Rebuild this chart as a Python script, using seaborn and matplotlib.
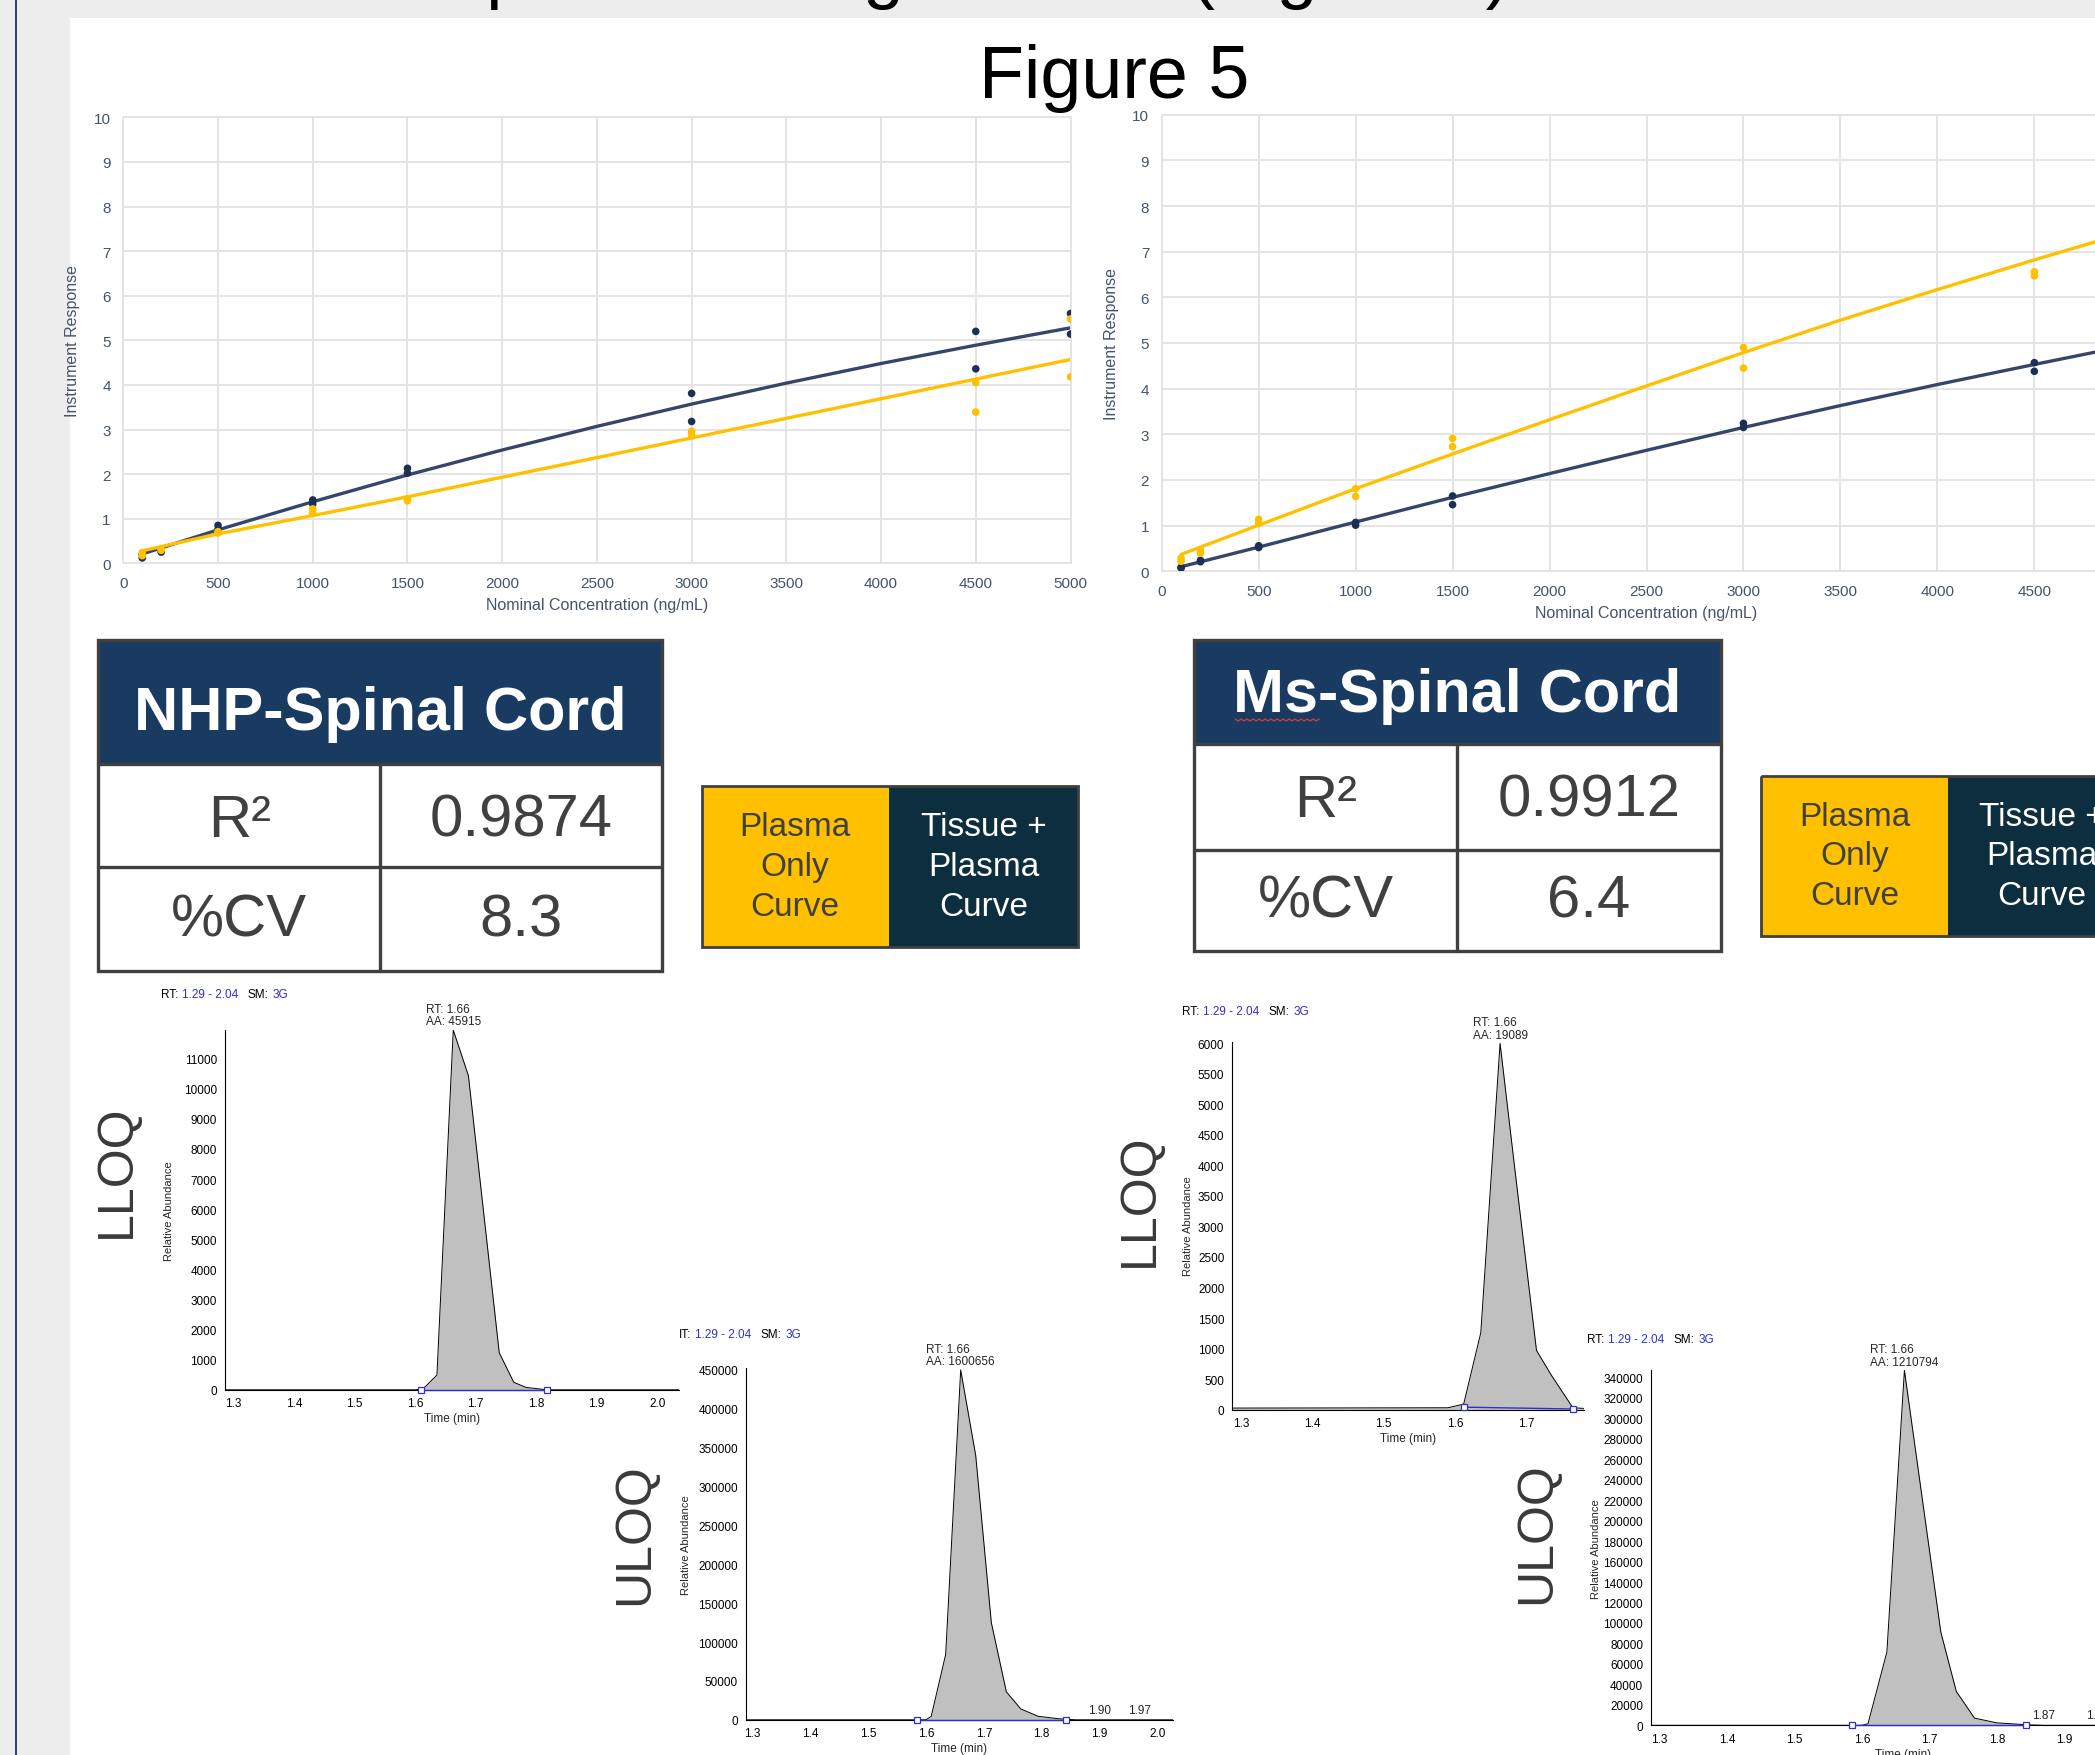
import numpy as np
import pandas as pd
import seaborn as sns
import matplotlib
matplotlib.use("Agg")
import matplotlib.pyplot as plt
from matplotlib.patches import Rectangle
from matplotlib.ticker import MultipleLocator, AutoMinorLocator, FormatStrFormatter

# ---------------- data ----------------
# calibration points (two replicates per level)
conc = [100, 100, 200, 200, 500, 500, 1000, 1000, 1500, 1500, 3000, 3000, 4500, 4500, 5000, 5000]
nhp_tissue = [0.12, 0.20, 0.25, 0.28, 0.76, 0.85, 1.33, 1.42, 2.02, 2.13, 3.18, 3.81, 4.36, 5.20, 5.14, 5.60]
nhp_plasma = [0.17, 0.24, 0.29, 0.31, 0.68, 0.71, 1.13, 1.22, 1.40, 1.45, 2.88, 2.96, 3.39, 4.05, 4.18, 5.48]
ms_conc = [100, 100, 200, 200, 500, 500, 1000, 1000, 1500, 1500, 3000, 3000, 4500, 4500]
ms_tissue = [0.07, 0.09, 0.21, 0.24, 0.52, 0.56, 1.01, 1.07, 1.46, 1.65, 3.15, 3.24, 4.38, 4.57]
ms_plasma = [0.22, 0.29, 0.40, 0.47, 1.05, 1.14, 1.64, 1.81, 2.73, 2.91, 4.45, 4.90, 6.47, 6.56]

# fitted curves, read at every 500 ng/mL
fit_conc = [100, 500, 1000, 1500, 2000, 2500, 3000, 3500, 4000, 4500, 5000]
nhp_tissue_fit = [0.21, 0.75, 1.38, 1.98, 2.54, 3.07, 3.57, 4.04, 4.48, 4.89, 5.28]
nhp_plasma_fit = [0.28, 0.66, 1.07, 1.49, 1.93, 2.37, 2.81, 3.25, 3.69, 4.13, 4.57]
ms_tissue_fit = [0.10, 0.53, 1.08, 1.62, 2.14, 2.65, 3.15, 3.63, 4.09, 4.53, 4.96]
ms_plasma_fit = [0.37, 1.01, 1.81, 2.57, 3.32, 4.06, 4.79, 5.50, 6.17, 6.82, 7.45]

# stats tables and legend
stat_labels = ["R\u00b2", "%CV"]
nhp_stats = ["0.9874", "8.3"]
ms_stats = ["0.9912", "6.4"]
legend_labels = ["Plasma\nOnly\nCurve", "Tissue +\nPlasma\nCurve"]

# chromatograms (time, abundance)
nhp_lloq_t = [1.285, 1.600, 1.613, 1.636, 1.663, 1.688, 1.739, 1.763, 1.783, 1.818, 2.036]
nhp_lloq_a = [0, 0, 30, 490, 11950, 10440, 1230, 250, 80, 0, 0]
nhp_uloq_t = [1.288, 1.600, 1.609, 1.634, 1.660, 1.686, 1.713, 1.739, 1.764, 1.794, 1.830, 1.860, 2.027]
nhp_uloq_a = [0, 0, 4500, 84000, 450000, 340000, 125000, 36000, 14000, 4500, 1300, 0, 0]
ms_lloq_t = [1.2875, 1.590, 1.612, 1.636, 1.663, 1.685, 1.714, 1.735, 1.765, 1.780]
ms_lloq_a = [25, 30, 90, 1260, 6000, 3810, 970, 560, 30, 20]
ms_uloq_t = [1.287, 1.600, 1.609, 1.637, 1.663, 1.717, 1.740, 1.767, 1.800, 1.845, 1.870, 2.036]
ms_uloq_a = [0, 0, 1500, 71600, 347000, 91000, 33000, 7000, 2400, 500, 0, 0]

# integration limits
nhp_lloq_int = ([1.609, 1.818], [0, 0])
nhp_uloq_int = ([1.584, 1.842], [0, 0])
ms_lloq_int = ([1.612, 1.765], [40, 10])
ms_uloq_int = ([1.585, 1.844], [0, 0])

# peak labels
nhp_lloq_peak = ("1.66", "45915")
nhp_uloq_peak = ("1.66", "1600656")
ms_lloq_peak = ("1.66", "19089")
ms_uloq_peak = ("1.66", "1210794")
nhp_uloq_extra = ([1.90, 1.97], ["1.90", "1.97"])
ms_uloq_extra = ([1.87, 1.95], ["1.87", "1.95"])

# ---------------- style ----------------
sns.set_style("white")
plt.rcParams["font.family"] = ["Liberation Sans", "DejaVu Sans"]

W, H, DPI = 2095, 1756, 100
NAVY_LINE = "#34476b"
NAVY_PT = "#1c2f55"
GOLD = "#ffc000"
TICK = "#44546a"
GRID = "#e4e4e4"
HEADER_BLUE = "#1a3b61"
LEGEND_DARK = "#0d2e3e"
BORDER = "#404040"
BLUE_TXT = "#2f2fd0"
PEAK_FILL = "#c0c0c0"

fig = plt.figure(figsize=(W / DPI, H / DPI), dpi=DPI)
fig.patch.set_facecolor("white")


def add_axes_px(x0, y0, x1, y1):
    return fig.add_axes([x0 / W, 1 - y1 / H, (x1 - x0) / W, (y1 - y0) / H], zorder=2)


# background canvas in pixel units (y down)
bg = fig.add_axes([0, 0, 1, 1], zorder=0)
bg.set_xlim(0, W)
bg.set_ylim(H, 0)
bg.axis("off")
bg.add_patch(Rectangle((0, 0), 70, H, fc="#ededed", ec="none"))
bg.add_patch(Rectangle((0, 0), W, 19, fc="#ededed", ec="none"))
bg.add_patch(Rectangle((14.5, 0), 2.5, H, fc="#2a4a6b", ec="none"))
bg.text(1510, -4.5, "Plasma Spike Loading Results (Figure 5)", fontsize=53,
        ha="right", va="baseline", color="black")
bg.text(1114, 98, "Figure 5", fontsize=53, ha="center", va="baseline", color="black")

renderer = fig.canvas.get_renderer()


# ---------------- calibration curves ----------------
def calib_panel(box, pts_x, tissue_pts, plasma_pts, tissue_fit, plasma_fit):
    ax = add_axes_px(*box)
    ax.set_facecolor("none")
    n = len(fit_conc)
    fit_df = pd.DataFrame({"conc": fit_conc * 2,
                           "resp": tissue_fit + plasma_fit,
                           "curve": ["tissue"] * n + ["plasma"] * n})
    pal = {"tissue": NAVY_LINE, "plasma": GOLD}
    sns.lineplot(data=fit_df, x="conc", y="resp", hue="curve", palette=pal,
                 lw=2.4, errorbar=None, legend=False, ax=ax)
    m = len(pts_x)
    pts_df = pd.DataFrame({"conc": pts_x * 2,
                           "resp": tissue_pts + plasma_pts,
                           "curve": ["tissue"] * m + ["plasma"] * m})
    sns.scatterplot(data=pts_df, x="conc", y="resp", hue="curve",
                    palette={"tissue": NAVY_PT, "plasma": GOLD}, s=30,
                    linewidth=0, legend=False, zorder=3, ax=ax)
    ax.set_xlim(0, 5000)
    ax.set_ylim(0, 10)
    ax.xaxis.set_major_locator(MultipleLocator(500))
    ax.yaxis.set_major_locator(MultipleLocator(1))
    ax.grid(True, color=GRID, lw=1.4)
    for s in ax.spines.values():
        s.set_color(GRID)
        s.set_linewidth(1.4)
    ax.tick_params(length=0, labelsize=11, labelcolor=TICK, pad=9)
    ax.set_xlabel("Nominal Concentration (ng/mL)", fontsize=11.5, color=TICK, labelpad=5)
    ax.set_ylabel("Instrument Response", fontsize=11.5, color=TICK)
    ax.yaxis.set_label_coords(-43 / (box[2] - box[0]), 0.5)
    return ax


calib_panel((123.3, 118.3, 1070.5, 564.3), conc, nhp_tissue, nhp_plasma,
            nhp_tissue_fit, nhp_plasma_fit)
calib_panel((1161.7, 115.7, 2131.3, 572.3), ms_conc, ms_tissue, ms_plasma,
            ms_tissue_fit, ms_plasma_fit)


# ---------------- stats tables and legends ----------------
def stats_table(x0, xs, x1, y0, yh, ys, y1, title, values, baselines, squiggle=False):
    bg.add_patch(Rectangle((x0, y0), x1 - x0, yh - y0, fc=HEADER_BLUE, ec="none"))
    bg.add_patch(Rectangle((x0, y0), x1 - x0, y1 - y0, fc="none", ec=BORDER, lw=2.4))
    bg.plot([x0, x1], [yh, yh], color=BORDER, lw=2.4)
    bg.plot([x0, x1], [ys, ys], color=BORDER, lw=2.4)
    bg.plot([xs, xs], [yh, y1], color=BORDER, lw=2.4)
    t = bg.text((x0 + x1) / 2, baselines[0], title, color="white", fontsize=44,
                fontweight="bold", ha="center", va="baseline")
    if squiggle:
        bb = t.get_window_extent(renderer)
        sx = np.arange(bb.x0 + 2, bb.x0 + 87, 3.0)
        sy = baselines[0] + 8 + 2 * (np.arange(len(sx)) % 2)
        bg.plot(sx, sy, color="#d04040", lw=0.9)
    for lab, val, base in zip(stat_labels, values, baselines[1:]):
        bg.text((x0 + xs) / 2, base, lab, color=BORDER, fontsize=43, ha="center", va="baseline")
        bg.text((xs + x1) / 2, base, val, color=BORDER, fontsize=43, ha="center", va="baseline")


def legend_box(x0, xs, x1, y0, y1):
    bg.add_patch(Rectangle((x0, y0), xs - x0, y1 - y0, fc=GOLD, ec="none"))
    bg.add_patch(Rectangle((xs, y0), x1 - xs, y1 - y0, fc=LEGEND_DARK, ec="none"))
    bg.add_patch(Rectangle((x0, y0), x1 - x0, y1 - y0, fc="none", ec=BORDER, lw=2.0))
    yc = (y0 + y1) / 2
    bg.text((x0 + xs) / 2, yc, legend_labels[0], color=BORDER, fontsize=24,
            ha="center", va="center", linespacing=1.37, multialignment="center")
    bg.text((xs + x1) / 2, yc, legend_labels[1], color="white", fontsize=24,
            ha="center", va="center", linespacing=1.37, multialignment="center")


stats_table(98.2, 380.2, 661.5, 640.7, 765, 868.3, 971.7, "NHP-Spinal Cord",
            nhp_stats, (730, 837, 937))
legend_box(701.5, 888.8, 1078.2, 786.7, 948.3)
stats_table(1193.9, 1457.2, 1720.6, 640.7, 745, 850.7, 952.3, "Ms-Spinal Cord",
            ms_stats, (712, 817, 918), squiggle=True)
legend_box(1761.2, 1948.4, 2135.6, 777.3, 936.7)


# ---------------- chromatograms ----------------
def header(x, y, first="RT:"):
    pieces = [(first, "black", 4), ("1.29 - 2.04", BLUE_TXT, 9), ("SM:", "black", 4), ("3G", BLUE_TXT, 0)]
    for txt, col, gap in pieces:
        t = bg.text(x, y, txt, color=col, fontsize=8.5, ha="left", va="center")
        x += t.get_window_extent(renderer).width + gap


def chromatogram(box, xlim, ylim, ystep, t, a, integ, peak, extra=None, ylab_dx=50):
    ax = add_axes_px(*box)
    ax.set_facecolor("none")
    ax.fill_between(t, a, color=PEAK_FILL, lw=0)
    sns.lineplot(x=t, y=a, color="black", lw=0.7, sort=False, errorbar=None, ax=ax)
    ax.plot(integ[0], integ[1], color=BLUE_TXT, lw=1.0, marker="s", ms=4,
            mfc="white", mec=BLUE_TXT, mew=0.9, clip_on=False, zorder=4)
    ax.set_xlim(*xlim)
    ax.set_ylim(*ylim)
    ax.xaxis.set_major_locator(MultipleLocator(0.1))
    ax.xaxis.set_minor_locator(AutoMinorLocator(5))
    ax.yaxis.set_major_locator(MultipleLocator(ystep))
    ax.yaxis.set_minor_locator(AutoMinorLocator(5))
    ax.xaxis.set_major_formatter(FormatStrFormatter("%.1f"))
    ax.yaxis.set_major_formatter(FormatStrFormatter("%d"))
    for side in ("top", "right"):
        ax.spines[side].set_visible(False)
    for side in ("left", "bottom"):
        ax.spines[side].set_color("black")
        ax.spines[side].set_linewidth(0.8)
    ax.tick_params(which="major", direction="out", length=4, width=0.6,
                   labelsize=8.5, pad=1.5, colors="black")
    ax.tick_params(which="minor", direction="out", length=2.2, width=0.5, colors="black")
    ax.set_xlabel("Time (min)", fontsize=8.5, labelpad=2)
    ax.set_ylabel("Relative Abundance", fontsize=8)
    ax.yaxis.set_label_coords(-ylab_dx / (box[2] - box[0]), 0.5)
    i = int(np.argmax(a))
    ax.annotate(f"RT: {peak[0]}\nAA: {peak[1]}", xy=(t[i], a[i]), xytext=(0, 2),
                textcoords="offset points", ha="center", va="bottom", fontsize=8.5,
                multialignment="left", linespacing=1.05, annotation_clip=False)
    if extra is not None:
        for et, el in zip(*extra):
            ax.annotate(el, xy=(et, 0), xytext=(0, 3), textcoords="offset points",
                        ha="center", va="bottom", fontsize=8.5, annotation_clip=False)
    return ax


chromatogram((224.5, 1031.1, 679.0, 1390.8), (1.285, 2.036), (0, 11950), 1000,
             nhp_lloq_t, nhp_lloq_a, nhp_lloq_int, nhp_lloq_peak, ylab_dx=50)
chromatogram((745.7, 1369.4, 1172.8, 1720.8), (1.288, 2.027), (0, 452000), 50000,
             nhp_uloq_t, nhp_uloq_a, nhp_uloq_int, nhp_uloq_peak, nhp_uloq_extra, ylab_dx=55)
chromatogram((1232.0, 1042.5, 1583.6, 1410.6), (1.2875, 1.78), (0, 6030), 500,
             ms_lloq_t, ms_lloq_a, ms_lloq_int, ms_lloq_peak, ylab_dx=39)
chromatogram((1650.8, 1371.3, 2156.0, 1726.3), (1.287, 2.036), (0, 347000), 20000,
             ms_uloq_t, ms_uloq_a, ms_uloq_int, ms_uloq_peak, ms_uloq_extra, ylab_dx=50)

header(161, 995)
header(679, 1335, first="IT:")
header(1182, 1012)
header(1587, 1340)

for x, y, lab in [(117, 1171, "LLOQ"), (635, 1534, "ULOQ"),
                  (1140, 1200, "LLOQ"), (1537, 1533, "ULOQ")]:
    bg.text(x, y, lab, rotation=90, fontsize=36, color="#3a3a3a",
            ha="center", va="center")

fig.savefig("out.png", dpi=DPI)
